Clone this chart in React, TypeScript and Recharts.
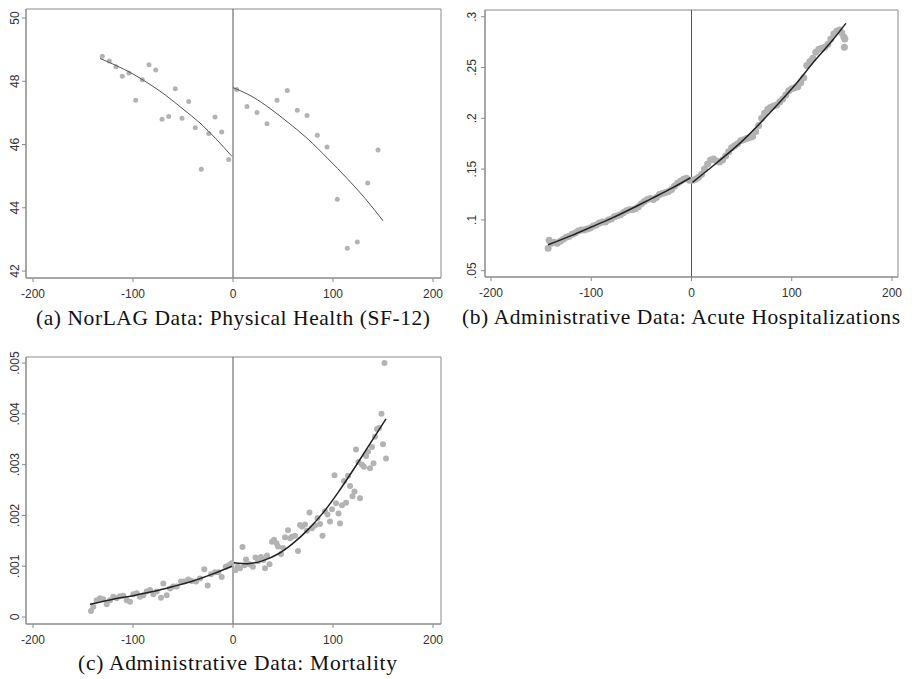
import React from 'react';
import { ComposedChart, Scatter, Line, XAxis, YAxis, ReferenceLine, ReferenceArea } from 'recharts';

// (a) NorLAG physical health, points and fitted curves
const sf12Left: [number, number][] = [
  [-130.7, 48.79], [-123.7, 48.64], [-117, 48.46], [-110.7, 48.16], [-104, 48.26], [-97.3, 47.4],
  [-90.7, 48.05], [-84, 48.52], [-77.3, 48.36], [-71, 46.8], [-64.3, 46.89], [-57.7, 47.76],
  [-51, 46.83], [-44.3, 47.36], [-37.7, 46.53], [-31.7, 45.22], [-24.3, 46.35], [-18, 46.87],
  [-11.3, 46.4], [-4.3, 45.53],
];
const sf12Right: [number, number][] = [
  [3.7, 47.74], [14, 47.2], [24, 47.01], [34, 46.66], [44, 47.4], [54.3, 47.71], [64.3, 47.08],
  [74, 46.92], [84.3, 46.29], [94, 45.92], [104.3, 44.27], [114.3, 42.72], [124.3, 42.92],
  [134.7, 44.78], [145, 45.83],
];
const sf12FitLeft: [number, number][] = [
  [-133, 48.72], [-117, 48.5], [-100, 48.23], [-83, 47.9], [-67, 47.55], [-50, 47.12],
  [-33, 46.68], [-17, 46.18], [-1, 45.62],
];
const sf12FitRight: [number, number][] = [
  [0, 47.8], [20, 47.5], [37, 47.14], [55, 46.7], [74, 46.2], [95, 45.55], [114, 44.93],
  [132, 44.3], [150, 43.59],
];

// (b) acute hospitalizations
const hospLeft: [number, number][] = [
  [-143, 0.072], [-142, 0.08], [-140, 0.077], [-137, 0.078], [-134, 0.077], [-131, 0.079],
  [-128, 0.081], [-125, 0.083], [-122, 0.084], [-119, 0.086], [-116, 0.087], [-113, 0.089],
  [-110, 0.09], [-107, 0.09], [-104, 0.091], [-101, 0.092], [-98, 0.094], [-95, 0.095],
  [-92, 0.097], [-89, 0.098], [-86, 0.098], [-83, 0.1], [-80, 0.101], [-77, 0.103],
  [-74, 0.104], [-71, 0.105], [-68, 0.107], [-65, 0.109], [-62, 0.11], [-59, 0.11],
  [-56, 0.111], [-53, 0.113], [-50, 0.116], [-47, 0.118], [-44, 0.12], [-41, 0.121],
  [-38, 0.12], [-35, 0.122], [-32, 0.125], [-29, 0.126], [-26, 0.127], [-23, 0.128],
  [-20, 0.13], [-17, 0.133], [-14, 0.136], [-11, 0.138], [-8, 0.14], [-5, 0.141], [-2, 0.139],
];
const hospRight: [number, number][] = [
  [1, 0.139], [4, 0.14], [7, 0.142], [10, 0.145], [13, 0.15], [16, 0.155], [19, 0.159],
  [22, 0.16], [25, 0.158], [28, 0.157], [31, 0.159], [34, 0.163], [37, 0.167], [40, 0.171],
  [43, 0.173], [46, 0.175], [49, 0.178], [52, 0.179], [55, 0.18], [58, 0.181], [61, 0.182],
  [64, 0.187], [67, 0.193], [70, 0.2], [73, 0.205], [76, 0.209], [79, 0.211], [82, 0.212],
  [85, 0.213], [88, 0.216], [91, 0.219], [94, 0.223], [97, 0.227], [100, 0.229], [103, 0.23],
  [106, 0.231], [109, 0.235], [112, 0.24], [115, 0.252], [118, 0.256], [121, 0.259],
  [124, 0.265], [127, 0.268], [130, 0.269], [133, 0.27], [136, 0.273], [139, 0.278],
  [142, 0.283], [145, 0.286], [148, 0.287], [150, 0.284], [152, 0.28], [153, 0.278], [152.5, 0.27],
];
const hospFitLeft: [number, number][] = [
  [-143, 0.0755], [-120, 0.0845], [-100, 0.093], [-80, 0.1015], [-60, 0.111], [-40, 0.121],
  [-20, 0.131], [-1, 0.1415],
];
const hospFitRight: [number, number][] = [
  [1, 0.137], [25, 0.156], [50, 0.177], [75, 0.202], [100, 0.229], [125, 0.259], [140, 0.276],
  [154, 0.2935],
];

// (c) mortality
const mortLeft: [number, number][] = [
  [-142, 0.00012], [-139.7, 0.0002], [-136.3, 0.00033], [-133, 0.00037], [-129.7, 0.00035],
  [-126.3, 0.00025], [-123, 0.00033], [-119.7, 0.0004], [-116.3, 0.00037], [-113, 0.00041],
  [-109.7, 0.00042], [-106.3, 0.00033], [-103, 0.0003], [-99.7, 0.00045], [-96.3, 0.00047],
  [-93, 0.0004], [-89.7, 0.00043], [-86.3, 0.0005], [-83, 0.00053], [-79.7, 0.00045],
  [-76.3, 0.0005], [-72, 0.00038], [-69.7, 0.00066], [-66.3, 0.00043], [-63, 0.00056],
  [-59.7, 0.0006], [-56.3, 0.0006], [-52, 0.0007], [-48.7, 0.0007], [-44.7, 0.00074],
  [-41.3, 0.00071], [-37, 0.0007], [-33, 0.00076], [-28.7, 0.00094], [-25.3, 0.00062],
  [-22, 0.00084], [-18, 0.00088], [-14.7, 0.00088], [-11.3, 0.00079], [-7.3, 0.00099],
  [-4, 0.00102], [-1.3, 0.00106],
];
const mortRight: [number, number][] = [
  [2.5, 0.00092], [4.5, 0.00099], [7, 0.00096], [9.5, 0.00138], [11.5, 0.00102], [13, 0.00113],
  [15.5, 0.00105], [17.5, 0.00103], [20, 0.00099], [22.5, 0.00117], [25, 0.0011], [28, 0.00118],
  [30.5, 0.00112], [32, 0.00096], [34, 0.00121], [36.5, 0.00104], [39, 0.00148], [41, 0.00152],
  [43.5, 0.00145], [45, 0.00139], [48, 0.00124], [50, 0.00136], [52, 0.00157], [55, 0.00171],
  [57, 0.00155], [59, 0.00158], [62, 0.0016], [65, 0.0013], [67, 0.00181], [69, 0.00178],
  [72, 0.00182], [74, 0.0017], [76.5, 0.00206], [79, 0.00175], [82, 0.0018], [84.5, 0.00195],
  [87, 0.00183], [89.5, 0.0016], [92, 0.00208], [94.5, 0.00202], [97, 0.00188], [99, 0.00212],
  [101.5, 0.00279], [103, 0.00224], [105.5, 0.00204], [107, 0.00184], [109, 0.0022],
  [111, 0.00268], [113, 0.00225], [115, 0.00278], [117, 0.00258], [119.5, 0.00238],
  [121.5, 0.00247], [123, 0.0033], [125.5, 0.00305], [127, 0.00234], [129, 0.003], [131, 0.00296],
  [133, 0.00317], [135, 0.00326], [137, 0.00293], [139, 0.00335], [140.5, 0.00303],
  [142, 0.00355], [144, 0.0037], [146, 0.00372], [148.5, 0.004], [150, 0.0034], [151.5, 0.005],
  [153, 0.00312],
];
const mortFitLeft: [number, number][] = [
  [-143, 0.00025], [-120, 0.00035], [-100, 0.00042], [-80, 0.0005], [-60, 0.0006],
  [-40, 0.00071], [-20, 0.00085], [-1, 0.001],
];
const mortFitRight: [number, number][] = [
  [1, 0.00107], [15, 0.00105], [30, 0.00111], [45, 0.00124], [60, 0.00145], [75, 0.00172],
  [90, 0.00205], [105, 0.00245], [120, 0.00289], [135, 0.00335], [153, 0.0039],
];

const xTicks = [-200, -100, 0, 100, 200];
const sf12Ticks = [42, 44, 46, 48, 50];
const hospTicks = [0.05, 0.1, 0.15, 0.2, 0.25, 0.3];
const mortTicks = [0, 0.001, 0.002, 0.003, 0.004, 0.005];

const captions = [
  '(a) NorLAG Data: Physical Health (SF-12)',
  '(b) Administrative Data: Acute Hospitalizations',
  '(c) Administrative Data: Mortality',
];

const FRAME = '#8a8a8a';
const DOT = '#b3b3b3';
const SANS = '"Liberation Sans", Arial, sans-serif';

const toPts = (a: [number, number][]) => a.map(([x, y]) => ({ x, y }));
const fmt = (v: number) => (v === 0 ? '0' : String(v).replace(/^0\./, '.'));

const XTick = (p: any) => (
  <text x={p.x} y={p.y} dy={10} textAnchor="middle" fontSize={12} fill="#333" fontFamily={SANS}>
    {p.payload.value}
  </text>
);
const YTick = (p: any) => (
  <text x={p.x} y={p.y} transform={`rotate(-90, ${p.x}, ${p.y})`} textAnchor="middle" fontSize={12} fill="#333" fontFamily={SANS}>
    {fmt(p.payload.value)}
  </text>
);

interface PanelProps {
  left: number;
  top: number;
  width: number;
  height: number;
  margin: { top: number; right: number; bottom: number; left: number };
  yWidth: number;
  yTickMargin: number;
  xDomain: [number, number];
  yDomain: [number, number];
  yTicks: number[];
  pts: [number, number][][];
  fits: [number, number][][];
  r: number;
  fitColor: string;
  fitWidth: number;
}

function Panel(p: PanelProps) {
  return (
    <div style={{ position: 'absolute', left: p.left, top: p.top }}>
      <ComposedChart width={p.width} height={p.height} margin={p.margin}>
        <XAxis
          type="number"
          dataKey="x"
          domain={p.xDomain}
          ticks={xTicks}
          allowDataOverflow
          height={20}
          tickSize={4}
          tickMargin={6}
          tick={<XTick />}
          stroke={FRAME}
        />
        <YAxis
          type="number"
          dataKey="y"
          domain={p.yDomain}
          ticks={p.yTicks}
          allowDataOverflow
          width={p.yWidth}
          tickSize={4}
          tickMargin={p.yTickMargin}
          tick={<YTick />}
          stroke={FRAME}
        />
        <ReferenceArea
          x1={p.xDomain[0]}
          x2={p.xDomain[1]}
          y1={p.yDomain[0]}
          y2={p.yDomain[1]}
          fill="none"
          fillOpacity={0}
          stroke={FRAME}
          strokeWidth={1}
        />
        {p.pts.map((d, i) => (
          <Scatter
            key={'s' + i}
            data={toPts(d)}
            isAnimationActive={false}
            shape={(s: any) => <circle cx={s.cx} cy={s.cy} r={p.r} fill={DOT} />}
          />
        ))}
        <ReferenceLine x={0} stroke="#555" strokeWidth={1} />
        {p.fits.map((d, i) => (
          <Line
            key={'f' + i}
            data={toPts(d)}
            dataKey="y"
            type="monotone"
            dot={false}
            activeDot={false}
            stroke={p.fitColor}
            strokeWidth={p.fitWidth}
            isAnimationActive={false}
            zIndex={900}
          />
        ))}
      </ComposedChart>
    </div>
  );
}

const capStyle: React.CSSProperties = {
  fontFamily: '"Liberation Serif", "Times New Roman", serif',
  fontSize: 21.5,
  fill: '#111',
};

export default function App() {
  return (
    <div style={{ position: 'absolute', left: 0, top: 0, width: 914, height: 679, background: '#fff' }}>
      <Panel
        left={0}
        top={0}
        width={450}
        height={300}
        margin={{ top: 9, right: 9, bottom: 2, left: 0 }}
        yWidth={26}
        yTickMargin={3}
        xDomain={[-207, 208]}
        yDomain={[41.78, 50.285]}
        yTicks={sf12Ticks}
        pts={[sf12Left, sf12Right]}
        fits={[sf12FitLeft, sf12FitRight]}
        r={2.5}
        fitColor="#555"
        fitWidth={1}
      />
      <Panel
        left={450}
        top={0}
        width={464}
        height={300}
        margin={{ top: 10, right: 16, bottom: 3, left: 0 }}
        yWidth={35}
        yTickMargin={5}
        xDomain={[-206, 206]}
        yDomain={[0.0438, 0.3066]}
        yTicks={hospTicks}
        pts={[hospLeft, hospRight]}
        fits={[hospFitLeft, hospFitRight]}
        r={3.5}
        fitColor="#222"
        fitWidth={1.5}
      />
      <Panel
        left={0}
        top={340}
        width={450}
        height={310}
        margin={{ top: 17, right: 9, bottom: 6, left: 0 }}
        yWidth={26}
        yTickMargin={3}
        xDomain={[-207, 208]}
        yDomain={[-0.000138, 0.00512]}
        yTicks={mortTicks}
        pts={[mortLeft, mortRight]}
        fits={[mortFitLeft, mortFitRight]}
        r={3}
        fitColor="#222"
        fitWidth={1.5}
      />
      <svg width={914} height={679} style={{ position: 'absolute', left: 0, top: 0, pointerEvents: 'none' }}>
        <text x={233} y={325} textAnchor="middle" textLength={394} lengthAdjust="spacing" style={capStyle}>
          {captions[0]}
        </text>
        <text x={681} y={324} textAnchor="middle" textLength={438} lengthAdjust="spacing" style={capStyle}>
          {captions[1]}
        </text>
        <text x={237.5} y={670} textAnchor="middle" textLength={319} lengthAdjust="spacing" style={capStyle}>
          {captions[2]}
        </text>
      </svg>
    </div>
  );
}
